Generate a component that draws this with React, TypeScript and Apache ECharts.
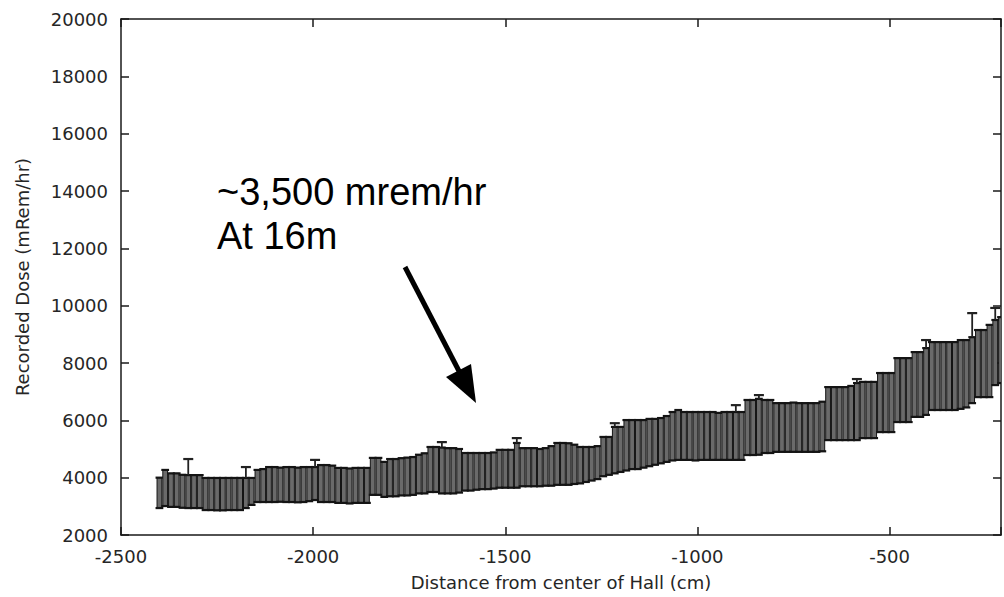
import React, { useEffect, useRef } from "react";
import * as echarts from "echarts";

// Sampling grid of the measurements (cm from centre of hall)
const distanceStart = -2400;
const distanceStep = 15;

// Upper end of each error bar (mRem/hr)
const doseHigh = [
  4000, 4270, 4150, 4150, 4100, 4090, 4090, 4090, 3990, 3990,
  3990, 3990, 3990, 3990, 3990, 3990, 3990, 4270, 4300, 4370,
  4370, 4350, 4370, 4370, 4350, 4370, 4370, 4370, 4440, 4440,
  4420, 4340, 4340, 4320, 4340, 4340, 4340, 4690, 4690, 4550,
  4650, 4650, 4680, 4700, 4720, 4800, 4850, 5070, 5070, 5050,
  5030, 5030, 5000, 4860, 4860, 4860, 4860, 4860, 4880, 4970,
  4970, 4970, 5210, 5030, 5030, 5030, 5000, 5030, 5100, 5210,
  5210, 5200, 5150, 5070, 5070, 5070, 5100, 5420, 5420, 5770,
  5770, 6010, 6010, 6010, 6010, 6050, 6050, 6080, 6150, 6290,
  6360, 6290, 6290, 6290, 6290, 6290, 6290, 6260, 6290, 6290,
  6290, 6290, 6710, 6710, 6750, 6710, 6710, 6600, 6600, 6600,
  6620, 6600, 6600, 6600, 6600, 6650, 7160, 7160, 7160, 7160,
  7200, 7300, 7340, 7340, 7340, 7650, 7650, 7650, 8170, 8170,
  8170, 8380, 8380, 8520, 8730, 8730, 8730, 8730, 8730, 8800,
  8800, 8900, 9150, 9150, 9330, 9500, 9600,
];

// Lower end of each error bar (mRem/hr)
const doseLow = [
  2940, 3010, 2980, 2980, 2950, 2940, 2940, 2940, 2870, 2870,
  2860, 2860, 2870, 2870, 2870, 2940, 3050, 3150, 3150, 3150,
  3150, 3160, 3150, 3150, 3140, 3150, 3180, 3220, 3150, 3150,
  3150, 3120, 3120, 3100, 3120, 3120, 3120, 3400, 3400, 3330,
  3350, 3350, 3380, 3380, 3400, 3450, 3450, 3500, 3500, 3450,
  3450, 3450, 3480, 3550, 3550, 3580, 3600, 3600, 3620, 3650,
  3650, 3650, 3650, 3700, 3700, 3700, 3700, 3720, 3720, 3750,
  3750, 3750, 3780, 3800, 3850, 3900, 3950, 4050, 4100, 4150,
  4200, 4250, 4300, 4300, 4350, 4400, 4450, 4500, 4550, 4600,
  4620, 4620, 4620, 4600, 4620, 4620, 4620, 4620, 4620, 4620,
  4620, 4620, 4790, 4790, 4800, 4860, 4860, 4900, 4900, 4900,
  4900, 4900, 4900, 4900, 4900, 4920, 5310, 5310, 5310, 5310,
  5310, 5310, 5380, 5380, 5380, 5590, 5590, 5590, 5940, 5940,
  5940, 6120, 6120, 6190, 6360, 6360, 6360, 6360, 6360, 6400,
  6450, 6600, 6810, 6810, 6810, 7230, 7300,
];

// Isolated long whiskers above the band
const capDistance = [-2325, -2175, -1995, -1665, -1470, -1215, -900, -840, -585, -405, -285, -225];
const capDose = [4650, 4370, 4620, 5240, 5380, 5900, 6530, 6880, 7440, 8800, 9740, 9920];

// Axis ticks
const xTickMin = -2500;
const xTickMax = -210;
const xTickInterval = 500;
const yTickMin = 2000;
const yTickMax = 20000;
const yTickInterval = 2000;

const axisFont = "DejaVu Sans";

export default function App() {
  const ref = useRef<HTMLDivElement>(null);

  useEffect(() => {
    if (!ref.current) return;
    const chart = echarts.init(ref.current, undefined, { renderer: "svg" });

    const distances = doseHigh.map((_, i) => distanceStart + i * distanceStep);
    const barData = distances.map((d, i) => [d, doseLow[i], doseHigh[i]]);
    const capData = capDistance.map((d, i) => {
      const idx = distances.indexOf(d);
      return [d, doseHigh[idx], capDose[i]];
    });

    const axisLine = { show: true, lineStyle: { color: "#1a1a1a", width: 1.5 } };
    const axisTick = { show: true, inside: true, length: 8, lineStyle: { color: "#1a1a1a", width: 1.5 } };

    chart.setOption({
      animation: false,
      backgroundColor: "#ffffff",
      grid: { left: 121, top: 19, width: 887, height: 516, containLabel: false },
      xAxis: [
        {
          type: "value",
          position: "bottom",
          min: xTickMin,
          max: xTickMax,
          interval: xTickInterval,
          name: "Distance from center of Hall (cm)",
          nameLocation: "middle",
          nameGap: 38,
          nameTextStyle: { fontFamily: axisFont, fontSize: 18, color: "#262626" },
          axisLine,
          axisTick,
          splitLine: { show: false },
          axisLabel: {
            margin: 12,
            fontFamily: axisFont,
            fontSize: 18,
            color: "#262626",
            formatter: (v: number) => (v % 500 === 0 ? String(v) : ""),
          },
        },
        {
          type: "value",
          position: "top",
          min: xTickMin,
          max: xTickMax,
          interval: xTickInterval,
          axisLine,
          axisTick,
          splitLine: { show: false },
          axisLabel: { show: false },
        },
      ],
      yAxis: [
        {
          type: "value",
          position: "left",
          min: yTickMin,
          max: yTickMax,
          interval: yTickInterval,
          name: "Recorded Dose (mRem/hr)",
          nameLocation: "middle",
          nameGap: 90,
          nameTextStyle: { fontFamily: axisFont, fontSize: 18, color: "#262626" },
          axisLine,
          axisTick,
          splitLine: { show: false },
          axisLabel: {
            margin: 13,
            fontFamily: axisFont,
            fontSize: 18,
            color: "#262626",
            formatter: (v: number) => String(v),
          },
        },
        {
          type: "value",
          position: "right",
          min: yTickMin,
          max: yTickMax,
          interval: yTickInterval,
          axisLine,
          axisTick,
          splitLine: { show: false },
          axisLabel: { show: false },
        },
      ],
      series: [
        {
          type: "custom",
          xAxisIndex: 0,
          yAxisIndex: 0,
          encode: { x: 0, y: [1, 2] },
          data: barData,
          clip: true,
          renderItem: (params: any, api: any) => {
            const x = api.value(0);
            const lo = api.value(1);
            const hi = api.value(2);
            const top = api.coord([x, hi]);
            const bot = api.coord([x, lo]);
            const w = api.size([distanceStep, 0])[0];
            const bw = w - 1;
            return {
              type: "group",
              children: [
                {
                  type: "rect",
                  shape: { x: top[0] - bw / 2, y: top[1], width: bw, height: bot[1] - top[1] },
                  style: { fill: "#6a6a6a", stroke: "#141414", lineWidth: 1 },
                },
                {
                  type: "line",
                  shape: { x1: top[0] - w / 2 - 1, y1: top[1], x2: top[0] + w / 2 + 1, y2: top[1] },
                  style: { stroke: "#141414", lineWidth: 2.2 },
                },
                {
                  type: "line",
                  shape: { x1: bot[0] - w / 2 - 1, y1: bot[1], x2: bot[0] + w / 2 + 1, y2: bot[1] },
                  style: { stroke: "#141414", lineWidth: 2.2 },
                },
              ],
            };
          },
        },
        {
          type: "custom",
          xAxisIndex: 0,
          yAxisIndex: 0,
          encode: { x: 0, y: [1, 2] },
          data: capData,
          clip: true,
          renderItem: (params: any, api: any) => {
            const x = api.value(0);
            const hi = api.value(1);
            const cap = api.value(2);
            const a = api.coord([x, hi]);
            const b = api.coord([x, cap]);
            return {
              type: "group",
              children: [
                {
                  type: "line",
                  shape: { x1: a[0], y1: a[1], x2: b[0], y2: b[1] },
                  style: { stroke: "#222", lineWidth: 1.8 },
                },
                {
                  type: "line",
                  shape: { x1: b[0] - 5, y1: b[1], x2: b[0] + 5, y2: b[1] },
                  style: { stroke: "#222", lineWidth: 2.2 },
                },
              ],
            };
          },
        },
      ],
      graphic: [
        {
          type: "text",
          left: 217,
          top: 170,
          style: {
            text: "~3,500 mrem/hr\nAt 16m",
            font: '38px "Liberation Sans", Arial, sans-serif',
            lineHeight: 44,
            fill: "#000000",
          },
        },
        {
          type: "line",
          shape: { x1: 405, y1: 267, x2: 460, y2: 373 },
          style: { stroke: "#000000", lineWidth: 5 },
        },
        {
          type: "polygon",
          shape: { points: [[476, 403], [446, 377], [471, 364]] },
          style: { fill: "#000000" },
        },
      ],
    });

    return () => chart.dispose();
  }, []);

  return (
    <div
      ref={ref}
      style={{ position: "absolute", left: 0, top: 0, width: 1004, height: 597, background: "#fff" }}
    />
  );
}
